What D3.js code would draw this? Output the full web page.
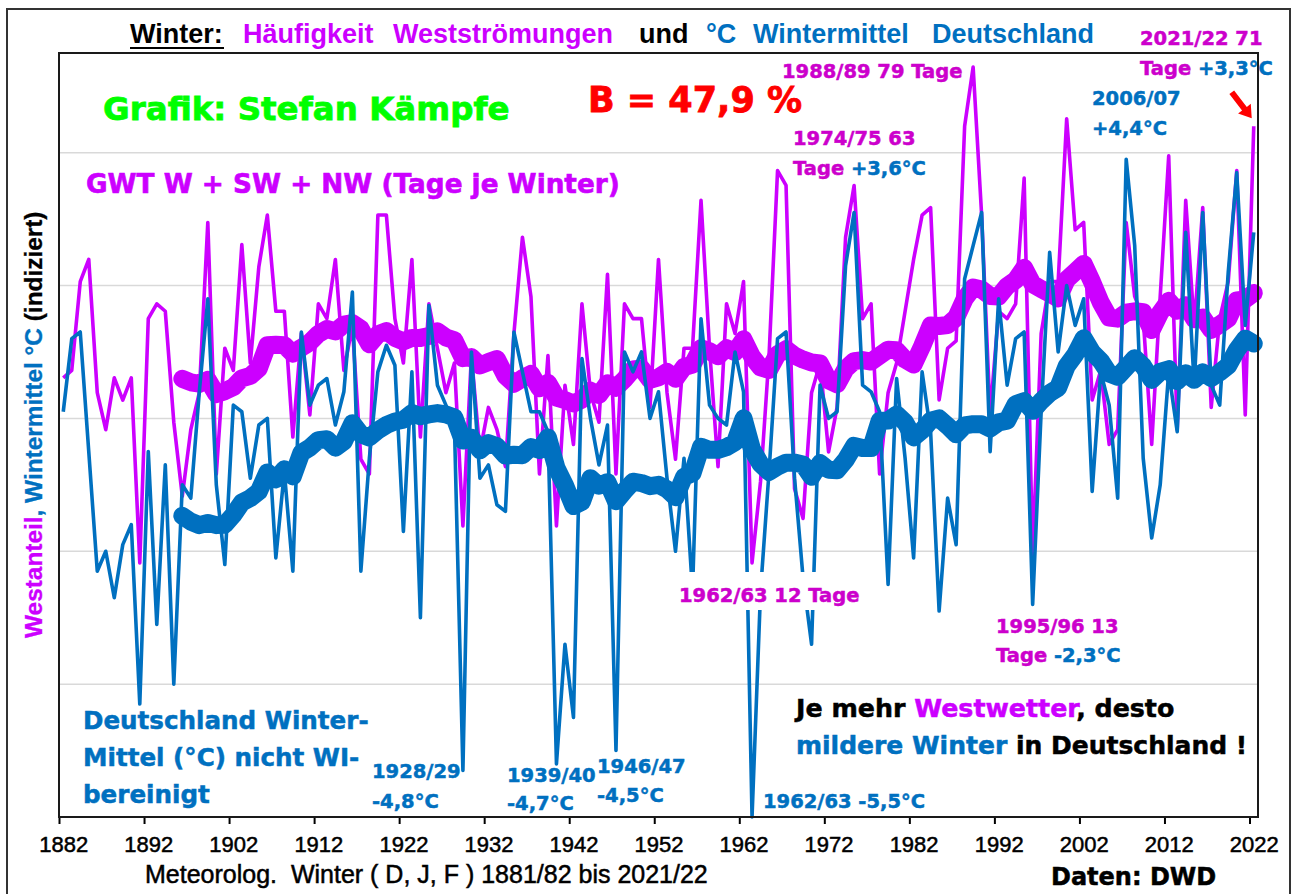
<!DOCTYPE html>
<html>
<head>
<meta charset="utf-8">
<script src="https://cdn.jsdelivr.net/npm/d3@7"></script>
<style>
  body { margin: 0; background: #fff; }
  svg { display: block; }
</style>
</head>
<body>
<svg id="chart" width="1293" height="894"></svg>
<script>
// winters 1881/82 ... 2021/22, labelled by the year of January
const firstYear = 1882, lastYear = 2022;

// days with GWT W + SW + NW per winter
const westDays = [
  37, 38, 50, 53, 35, 30, 37, 34, 37, 12,
  45, 47, 46, 31, 21, 30, 35, 58, 24, 41,
  38, 55, 39, 52, 59, 46, 46, 29, 43, 32,
  47, 45, 53, 38, 44, 26, 24, 59, 59, 45,
  39, 53, 29, 47, 41, 35, 39, 17, 40, 27,
  33, 30, 25, 43, 56, 48, 24, 40, 17, 36,
  28, 47, 35, 31, 51, 24, 47, 45, 45, 33,
  53, 35, 26, 41, 41, 61, 41, 25, 47, 43,
  50, 12, 23, 40, 65, 63, 22, 18, 35, 39,
  27, 33, 56, 63, 45, 47, 24, 35, 39, 46,
  53, 59, 60, 34, 41, 42, 71, 79, 59, 32,
  46, 45, 47, 64, 13, 43, 50, 50, 72, 57,
  58, 34, 38, 28, 30, 58, 48, 45, 28, 48,
  67, 30, 61, 44, 60, 33, 45, 50, 65, 32,
  71
];

// Germany winter mean temperature (DJF), deg C
const winterTemp = [
  0.6, 1.7, 1.8, 0.0, -1.8, -1.5, -2.2, -1.4, -1.1, -3.8,
  0.0, -2.6, -0.2, -3.5, -0.5, -0.7, 0.9, 2.3, -0.5, -1.7,
  0.7, 0.6, -0.4, 0.4, 0.5, -1.6, -0.3, -1.8, 1.8, 0.7,
  1.0, 1.1, 0.4, 0.9, 2.4, -1.8, -0.1, 1.2, 1.6, 1.3,
  -1.2, 1.2, -2.5, 2.2, 1.0, 0.7, 0.4, -4.8, 1.5, -0.4,
  -0.2, -0.8, -0.9, 1.8, 1.2, 0.6, 0.6, 0.3, -4.7, -2.9,
  -4.0, 1.4, 0.5, -0.2, 0.4, -4.5, 1.5, 1.2, 1.5, 0.5,
  0.9, -0.4, -1.5, -0.1, -2.1, 2.0, 0.7, 0.5, 0.4, 1.5,
  0.9, -5.5, -2.1, -0.3, 1.7, 1.8, -0.4, -1.9, -2.9, 1.0,
  0.5, 0.6, 2.8, 3.6, 1.0, 0.9, 0.6, -2.0, 1.1, -0.1,
  -1.6, 1.2, 0.3, -2.4, -0.7, -1.4, 2.6, 3.1, 3.6, 0.0,
  2.3, 1.0, 1.7, 1.8, -2.3, 0.6, 3.0, 1.5, 2.5, 1.9,
  2.3, -0.6, 1.2, 0.7, -0.7, 4.4, 3.1, -0.1, -1.3, -0.5,
  1.2, 0.3, 3.3, 1.0, 3.6, 1.0, 0.7, 2.7, 4.2, 1.9,
  3.3
];

const tickYears = [1882, 1892, 1902, 1912, 1922, 1932, 1942, 1952, 1962, 1972, 1982, 1992, 2002, 2012, 2022];
const gridTemps = [-3.5, -1.5, 0.5, 2.5, 4.5];
const maWindow = 15;   // Excel "gleitender Durchschnitt", 15 Winter

const years = d3.range(firstYear, lastYear + 1);

const magenta = "#CC00FF", magentaText = "#CC00CC", blue = "#0070C0";
const heavy = "'DejaVu Sans', sans-serif";
const arial = "'Liberation Sans', Arial, sans-serif";

const svg = d3.select("#chart");
const margin = { top: 53, right: 35, bottom: 77, left: 59 };
const width = +svg.attr("width");
const height = +svg.attr("height");
const plotW = width - margin.left - margin.right;
const plotH = height - margin.top - margin.bottom;

// each winter sits in the middle of its year slot
const x = d3.scaleLinear().domain([firstYear, lastYear + 1]).range([margin.left, margin.left + plotW]);
const yTemp = d3.scaleLinear().domain([-5.5, 6.0]).range([margin.top + plotH, margin.top]);
const yDays = d3.scaleLinear().domain([-22.35, 80.9]).range([margin.top + plotH, margin.top]);

const movingAvg = vals => vals.map((v, i) =>
  i < maWindow - 1 ? null : d3.mean(vals.slice(i - maWindow + 1, i + 1)));

const westData = years.map((year, i) => ({ year, v: westDays[i] }));
const tempData = years.map((year, i) => ({ year, v: winterTemp[i] }));
const westMA = movingAvg(westDays).map((v, i) => ({ year: years[i], v }));
const tempMA = movingAvg(winterTemp).map((v, i) => ({ year: years[i], v }));

// outer border
svg.append("rect")
  .attr("x", 7).attr("y", 9).attr("width", 1283).attr("height", 900)
  .attr("fill", "none").attr("stroke", "#333").attr("stroke-width", 2);

// grid
svg.append("g").selectAll("line")
  .data(gridTemps)
  .enter().append("line")
  .attr("x1", margin.left).attr("x2", margin.left + plotW)
  .attr("y1", d => yTemp(d)).attr("y2", d => yTemp(d))
  .attr("stroke", "#d9d9d9").attr("stroke-width", 1.5);

const lineOf = y => d3.line()
  .defined(d => d.v != null)
  .x(d => x(d.year + 0.5))
  .y(d => y(d.v));

const plot = svg.append("g");

plot.append("path").datum(westData)
  .attr("d", lineOf(yDays))
  .attr("fill", "none").attr("stroke", magenta).attr("stroke-width", 3.6)
  .attr("stroke-linejoin", "round");

plot.append("path").datum(westMA)
  .attr("d", lineOf(yDays))
  .attr("fill", "none").attr("stroke", magenta).attr("stroke-width", 18)
  .attr("stroke-linejoin", "round").attr("stroke-linecap", "round");

plot.append("path").datum(tempData)
  .attr("d", lineOf(yTemp))
  .attr("fill", "none").attr("stroke", blue).attr("stroke-width", 3.6)
  .attr("stroke-linejoin", "round");

plot.append("path").datum(tempMA)
  .attr("d", lineOf(yTemp))
  .attr("fill", "none").attr("stroke", blue).attr("stroke-width", 18)
  .attr("stroke-linejoin", "round").attr("stroke-linecap", "round");

// x axis: ticks between winters, labels on the winter
const xAxis = svg.append("g")
  .attr("transform", `translate(0, ${margin.top + plotH})`)
  .call(d3.axisBottom(x).tickValues(tickYears).tickFormat(d3.format("d")).tickSize(7));
xAxis.select(".domain").remove();
xAxis.selectAll(".tick line").attr("stroke", "#000").attr("stroke-width", 2);
xAxis.selectAll(".tick text")
  .attr("x", x(firstYear + 0.5) - x(firstYear))
  .attr("y", 35).attr("dy", null)
  .attr("font-family", arial).attr("font-size", "22px")
  .attr("fill", "#000").attr("stroke", "#000").attr("stroke-width", 0.5);

// plot frame
svg.append("rect")
  .attr("x", margin.left).attr("y", margin.top)
  .attr("width", plotW).attr("height", plotH)
  .attr("fill", "none").attr("stroke", "#1a1a1a").attr("stroke-width", 2);

// helper for multi-coloured text lines
function label(xPos, yPos, parts, size, family, weight) {
  const t = svg.append("text")
    .attr("x", xPos).attr("y", yPos)
    .attr("font-family", family || heavy)
    .attr("font-weight", "bold")
    .attr("font-size", size + "px")
    .style("white-space", "pre");
  parts.forEach(([txt, col]) => t.append("tspan")
    .attr("fill", col).attr("stroke", col).attr("stroke-width", weight == null ? 0.5 : weight)
    .text(txt));
  return t;
}

// title
const titleWords = [
  ["Winter:", 130, "#000"], ["Häufigkeit", 243, magenta], ["Westströmungen", 393, magenta],
  ["und", 639, "#000"], ["°C", 706, blue], ["Wintermittel", 753, blue], ["Deutschland", 932, blue]
];
titleWords.forEach(([w, xp, c]) => label(xp, 43, [[w, c]], 27, arial, 0));
svg.append("line")
  .attr("x1", 130).attr("x2", 224).attr("y1", 48).attr("y2", 48)
  .attr("stroke", "#000").attr("stroke-width", 2);

// y axis title
label(0, 0, [["Westanteil", magenta], [", Wintermittel °C ", blue], ["(indiziert)", "#000"]], 24.4, arial, 0.3)
  .attr("transform", "translate(41.5, 638) rotate(-90)");

// x axis titles
label(145, 883, [["Meteorolog.  Winter ( D, J, F ) 1881/82 bis 2021/22", "#000"]], 25, arial, 0.5)
  .attr("font-weight", "normal");
label(1051, 885, [["Daten: DWD", "#000"]], 24);

// big labels
label(103, 120, [["Grafik: Stefan Kämpfe", "#00FF00"]], 32.5, heavy, 0.8);
label(588, 112, [["B = 47,9 %", "#FF0000"]], 35, heavy, 0.8);
label(86, 193, [["GWT W + SW + NW (Tage je Winter)", magenta]], 26.3, heavy, 0.6);

label(83, 729, [["Deutschland Winter-", blue]], 24.6);
label(83, 766, [["Mittel (°C) nicht WI-", blue]], 24.6);
label(83, 803, [["bereinigt", blue]], 24.6);

label(796, 717, [["Je mehr ", "#000"], ["Westwetter", magenta], [", desto", "#000"]], 25.3);
label(796, 754, [["mildere Winter", blue], [" in Deutschland !", "#000"]], 25);

// extreme-winter notes
const small = 19.5;
label(782, 78, [["1988/89 79 Tage", magentaText]], small);
label(793, 145, [["1974/75 63", magentaText]], small);
label(793, 175, [["Tage ", magentaText], ["+3,6°C", blue]], small);
label(1092, 105, [["2006/07", blue]], small);
label(1092, 135, [["+4,4°C", blue]], small);
label(1140, 45, [["2021/22 71", magentaText]], small);
label(1140, 75, [["Tage ", magentaText], ["+3,3°C", blue]], small);

svg.append("rect")
  .attr("x", 675).attr("y", 572).attr("width", 192).attr("height", 38)
  .attr("fill", "#fff");
label(679, 602, [["1962/63 12 Tage", magentaText]], small);

label(996, 633, [["1995/96 13", magentaText]], small);
label(996, 662, [["Tage ", magentaText], ["-2,3°C", blue]], small);

label(372, 778, [["1928/29", blue]], small);
label(372, 808, [["-4,8°C", blue]], small);
label(507, 782, [["1939/40", blue]], small);
label(507, 810, [["-4,7°C", blue]], small);
label(597, 773, [["1946/47", blue]], small);
label(597, 802, [["-4,5°C", blue]], small);
label(763, 808, [["1962/63 -5,5°C", blue]], small);

// red arrow towards the last winter
const tip = [x(lastYear + 0.5) - 2, yDays(westDays[westDays.length - 1]) - 8];
const tail = [tip[0] - 20, tip[1] - 26];
const dx = tip[0] - tail[0], dy = tip[1] - tail[1];
const len = Math.hypot(dx, dy);
const ux = dx / len, uy = dy / len, nx = -uy, ny = ux;
const headLen = 12, headW = 8, shaftW = 3;
const bx = tip[0] - ux * headLen, by = tip[1] - uy * headLen;
const arrowPts = [
  [tail[0] + nx * shaftW, tail[1] + ny * shaftW],
  [bx + nx * shaftW, by + ny * shaftW],
  [bx + nx * headW, by + ny * headW],
  tip,
  [bx - nx * headW, by - ny * headW],
  [bx - nx * shaftW, by - ny * shaftW],
  [tail[0] - nx * shaftW, tail[1] - ny * shaftW]
];
svg.append("path")
  .attr("d", d3.line()(arrowPts) + "Z")
  .attr("fill", "#FF0000");
</script>
</body>
</html>
